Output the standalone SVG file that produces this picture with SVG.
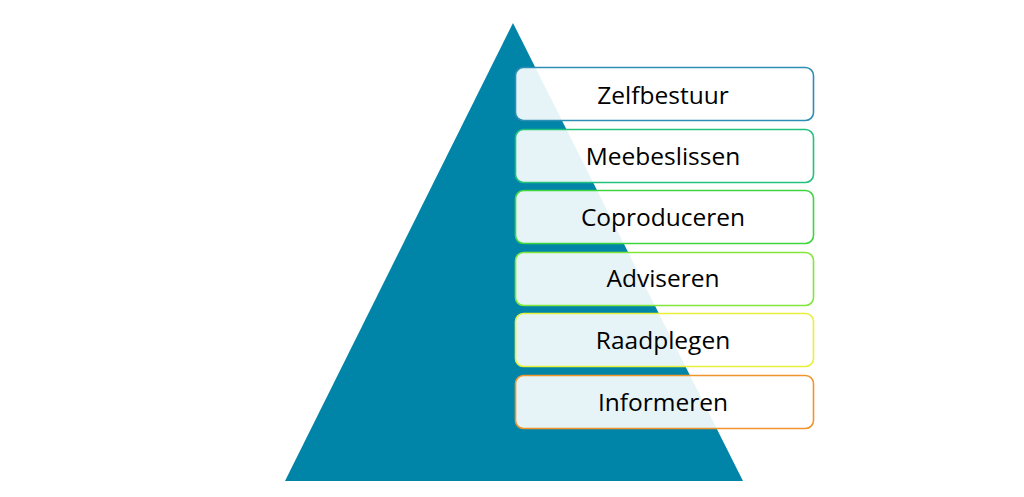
<svg xmlns="http://www.w3.org/2000/svg" width="1024" height="497" viewBox="0 0 1024 497">
<style>
.box{fill:#ffffff;fill-opacity:0.9;stroke-width:1.6}
.lbl{font-family:"Open Sans","Liberation Sans",sans-serif;font-size:24.5px;fill:#000;text-anchor:middle;dominant-baseline:central}
</style>
<rect width="1024" height="497" fill="#ffffff"/>
<g id="pyramid"><polygon points="513,23 285,481 743,481" fill="#0085a8"/></g>
<g id="zelfbestuur"><rect class="box" x="515.5" y="67.5" width="298" height="53" rx="8" stroke="#2d8fb4"/><text class="lbl" x="663" y="94">Zelfbestuur</text></g>
<g id="meebeslissen"><rect class="box" x="515.5" y="129.5" width="298" height="53" rx="8" stroke="#22c27d"/><text class="lbl" x="663" y="155">Meebeslissen</text></g>
<g id="coproduceren"><rect class="box" x="515.5" y="190.5" width="298" height="53" rx="8" stroke="#3dd63f"/><text class="lbl" x="663" y="216">Coproduceren</text></g>
<g id="adviseren"><rect class="box" x="515.5" y="252.5" width="298" height="53" rx="8" stroke="#80e63a"/><text class="lbl" x="663" y="277">Adviseren</text></g>
<g id="raadplegen"><rect class="box" x="515.5" y="313.5" width="298" height="53" rx="8" stroke="#e8f03a"/><text class="lbl" x="663" y="339">Raadplegen</text></g>
<g id="informeren"><rect class="box" x="515.5" y="375.5" width="298" height="53" rx="8" stroke="#f0952c"/><text class="lbl" x="663" y="401">Informeren</text></g>
<g id="connectors"></g>
</svg>
